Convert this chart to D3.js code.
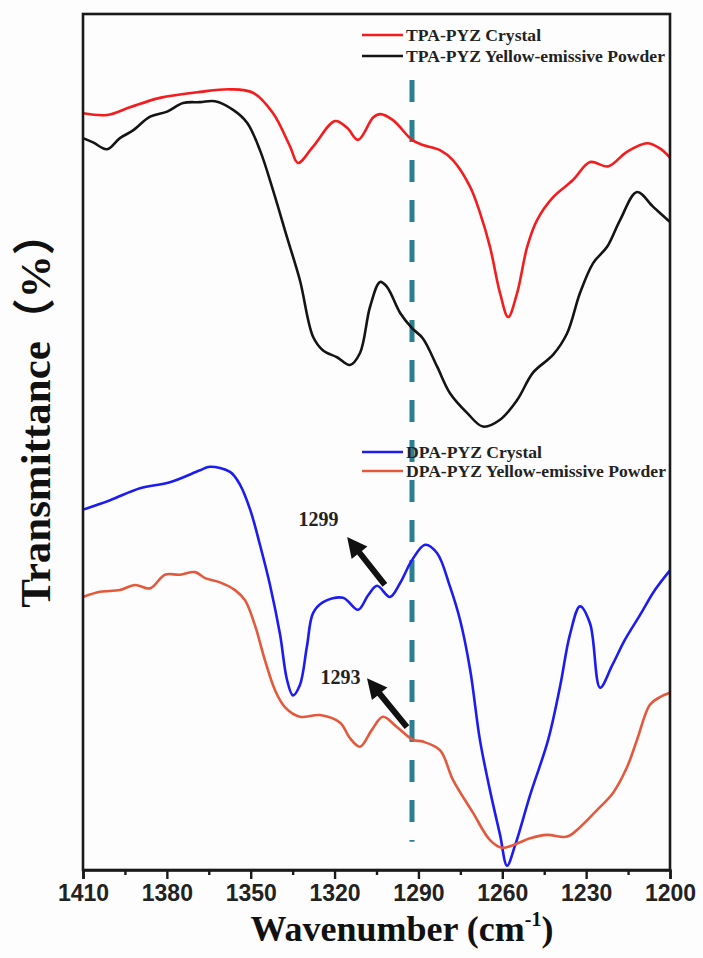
<!DOCTYPE html>
<html>
<head>
<meta charset="utf-8">
<script src="https://cdn.jsdelivr.net/npm/d3@7"></script>
<style>
  html, body { margin: 0; padding: 0; background: #ffffff; }
  svg { display: block; }
</style>
</head>
<body>
<svg id="chart" width="703" height="958"></svg>
<script>
// ---------- data ----------
const majorTicks = [1410, 1380, 1350, 1320, 1290, 1260, 1230, 1200];
const minorTicks = [1395, 1365, 1335, 1305, 1275, 1245, 1215];

const tpaCrystalWn = [1410.0,1401.4,1393.2,1382.5,1368.1,1357.4,1349.2,1342.0,1335.9,1333.1,1327.7,1319.8,1315.5,1311.6,1306.2,1303.7,1299.1,1292.3,1288.4,1282.3,1277.6,1271.5,1268.0,1264.4,1260.8,1257.9,1254.7,1251.1,1247.6,1241.8,1234.7,1228.6,1222.2,1215.4,1208.2,1203.6,1200.0];
const tpaCrystalT  = [88.4,88.2,89.1,90.2,90.9,91.2,90.8,88.4,84.5,82.6,84.5,87.5,86.7,85.3,87.9,88.3,87.6,85.3,84.7,84.1,82.9,79.8,76.8,72.8,67.4,64.6,67.4,72.8,75.9,78.6,80.6,82.7,82.2,83.9,84.9,84.3,83.2];

const tpaPowderWn = [1410.0,1406.4,1401.4,1396.8,1392.1,1386.0,1379.9,1374.2,1368.1,1362.8,1356.3,1351.3,1346.7,1342.0,1337.0,1332.4,1327.7,1324.1,1319.1,1314.5,1310.9,1307.3,1303.7,1301.2,1296.6,1292.3,1288.4,1283.3,1278.7,1272.6,1266.9,1260.8,1254.7,1249.0,1241.8,1236.8,1232.2,1227.5,1222.5,1217.9,1211.8,1206.1,1200.0];
const tpaPowderT  = [85.5,85.0,84.2,85.5,86.4,88.0,88.6,89.6,89.7,89.8,88.8,87.3,84.1,79.4,73.9,68.9,62.3,60.7,59.9,59.0,60.4,65.8,68.7,68.1,65.1,63.3,62.1,58.8,55.7,53.4,51.8,52.6,54.9,58.1,60.2,62.7,67.4,70.9,72.8,75.9,79.2,77.5,75.7];

const dpaCrystalWn = [1410.0,1400.3,1389.6,1378.9,1368.1,1364.6,1357.4,1353.8,1350.2,1346.7,1343.1,1339.5,1337.0,1334.9,1332.4,1329.9,1327.7,1324.1,1317.0,1311.6,1308.0,1304.8,1300.2,1296.6,1292.3,1287.6,1283.3,1278.7,1275.1,1271.5,1268.0,1264.4,1260.8,1258.3,1255.4,1250.0,1243.6,1239.3,1235.8,1232.2,1228.6,1225.0,1220.7,1216.1,1210.7,1205.4,1200.0];
const dpaCrystalT  = [42.1,43.2,44.6,45.3,46.7,47.1,46.5,45.0,42.1,38.0,33.3,27.5,22.2,20.4,21.6,26.1,30.0,31.3,31.8,30.4,32.1,33.2,31.9,33.5,36.2,38.0,37.0,33.1,29.2,23.4,15.2,9.3,4.1,0.5,2.9,8.8,15.2,21.5,27.5,30.8,28.8,21.3,23.9,26.9,29.8,32.7,35.0];

const dpaPowderWn = [1410.0,1403.9,1396.8,1391.4,1386.0,1380.7,1375.3,1369.9,1366.3,1361.0,1355.6,1352.0,1348.5,1344.9,1341.3,1337.7,1332.4,1325.2,1318.0,1314.5,1310.9,1306.6,1302.7,1297.7,1291.9,1288.4,1282.3,1277.6,1270.5,1264.4,1260.1,1256.2,1250.0,1244.0,1236.8,1232.2,1226.1,1220.4,1215.4,1211.8,1207.2,1203.6,1200.0];
const dpaPowderT  = [31.9,32.5,32.7,33.3,32.9,34.5,34.5,34.8,34.1,33.6,32.7,31.5,28.6,24.5,21.0,19.0,17.9,18.1,17.2,15.4,14.4,16.4,17.9,16.7,15.2,15.0,14.0,10.5,6.7,3.5,2.6,2.9,3.7,4.1,3.9,5.0,7.0,9.0,12.0,15.2,19.3,20.2,20.7];

const seriesNames = ["TPA-PYZ Crystal", "TPA-PYZ Yellow-emissive Powder", "DPA-PYZ Crystal", "DPA-PYZ Yellow-emissive Powder"];
const seriesColors = ["#f41c1c", "#141414", "#1c1cf2", "#e4583c"];

// marker line and annotations (wavenumber, transmittance)
const markerWn = 1292.3;
const markerRange = [92.3, 3.3];
const annLabels = ["1299", "1293"];
const annTextPos = [[1332.9, 40.2], [1325.0, 21.7]];
const annArrowTail = [[1302.0, 33.3], [1294.1, 16.7]];
const annArrowTip  = [[1315.5, 38.9], [1308.4, 22.4]];

// ---------- layout ----------
const svg = d3.select("#chart");
const L = 83, R = 670, T = 14, B = 870;
const x = d3.scaleLinear().domain([1410, 1200]).range([L, R]);
const y = d3.scaleLinear().domain([0, 100]).range([B, T]);

svg.append("rect").attr("width", 703).attr("height", 958).attr("fill", "#fdfdfd");

const series = [
  {wn: tpaCrystalWn, t: tpaCrystalT},
  {wn: tpaPowderWn, t: tpaPowderT},
  {wn: dpaCrystalWn, t: dpaCrystalT},
  {wn: dpaPowderWn, t: dpaPowderT}
].map((s, i) => ({name: seriesNames[i], color: seriesColors[i], pts: s.wn.map((w, j) => [w, s.t[j]])}));

const line = d3.line().x(d => x(d[0])).y(d => y(d[1])).curve(d3.curveCatmullRom.alpha(0.5));

// dashed marker
svg.append("line")
  .attr("x1", x(markerWn)).attr("x2", x(markerWn))
  .attr("y1", y(markerRange[0])).attr("y2", y(markerRange[1]))
  .attr("stroke", "#2a8090").attr("stroke-width", 5)
  .attr("stroke-dasharray", "22,18");

// curves
svg.append("g").selectAll("path").data(series).join("path")
  .attr("d", d => line(d.pts))
  .attr("fill", "none")
  .attr("stroke", d => d.color)
  .attr("stroke-width", 2.6)
  .attr("stroke-linejoin", "round");

// frame
svg.append("rect").attr("x", L).attr("y", T).attr("width", R - L).attr("height", B - T)
  .attr("fill", "none").attr("stroke", "#1a1a1a").attr("stroke-width", 2.6);

// x axis
const axis = d3.axisBottom(x).tickValues(majorTicks).tickSize(9).tickPadding(6).tickFormat(d3.format("d"));
const gx = svg.append("g").attr("transform", `translate(0,${B})`).call(axis);
gx.select(".domain").attr("stroke", "#1a1a1a").attr("stroke-width", 2.6);
gx.selectAll(".tick line").attr("stroke", "#1a1a1a").attr("stroke-width", 2.4);
gx.selectAll(".tick text").attr("fill", "#222").style("font-family", "'Liberation Sans', Arial, sans-serif")
  .style("font-size", "23px").style("font-weight", "bold");
const axisMinor = d3.axisBottom(x).tickValues(minorTicks).tickSize(5).tickFormat("");
const gm = svg.append("g").attr("transform", `translate(0,${B})`).call(axisMinor);
gm.select(".domain").remove();
gm.selectAll(".tick line").attr("stroke", "#1a1a1a").attr("stroke-width", 2.4);

// axis titles
const serif = "'Liberation Serif', 'Times New Roman', 'Noto Sans CJK SC', serif";
svg.append("text")
  .attr("transform", "translate(50,410) rotate(-90)")
  .attr("text-anchor", "middle")
  .style("font-family", serif).style("font-weight", "bold").style("font-size", "43px")
  .attr("fill", "#111")
  .text("Transmittance（%）");

const xt = svg.append("text")
  .attr("x", 402).attr("y", 941).attr("text-anchor", "middle")
  .style("font-family", serif).style("font-weight", "bold").style("font-size", "36px")
  .attr("fill", "#111");
xt.append("tspan").text("Wavenumber (cm");
xt.append("tspan").attr("dy", -15).style("font-size", "20px").text("-1");
xt.append("tspan").attr("dy", 15).text(")");

// legends
const legendRows = [
  {i: 0, ly: 35, ty: 41},
  {i: 1, ly: 56, ty: 62},
  {i: 2, ly: 452, ty: 458},
  {i: 3, ly: 471, ty: 477}
];
const lg = svg.append("g");
legendRows.forEach(r => {
  lg.append("line").attr("x1", 362).attr("x2", 403).attr("y1", r.ly).attr("y2", r.ly)
    .attr("stroke", seriesColors[r.i]).attr("stroke-width", 2.6);
  lg.append("text").attr("x", 406).attr("y", r.ty)
    .style("font-family", serif).style("font-weight", "bold").style("font-size", "17.6px")
    .attr("fill", "#222").text(seriesNames[r.i]);
});

// annotations
annLabels.forEach((lab, k) => {
  svg.append("text").attr("x", x(annTextPos[k][0])).attr("y", y(annTextPos[k][1]))
    .style("font-family", serif).style("font-weight", "bold").style("font-size", "20px")
    .attr("fill", "#222").text(lab);
  const x0 = x(annArrowTail[k][0]), y0 = y(annArrowTail[k][1]);
  const x1 = x(annArrowTip[k][0]), y1 = y(annArrowTip[k][1]);
  const dx = x1 - x0, dy = y1 - y0, len = Math.hypot(dx, dy);
  const ux = dx / len, uy = dy / len, nx = -uy, ny = ux;
  const sw = 3, hw = 10, hl = 20;
  const bx = x1 - ux * hl, by = y1 - uy * hl;
  const p = [
    [x0 + nx * sw, y0 + ny * sw], [bx + nx * sw, by + ny * sw], [bx + nx * hw, by + ny * hw],
    [x1, y1],
    [bx - nx * hw, by - ny * hw], [bx - nx * sw, by - ny * sw], [x0 - nx * sw, y0 - ny * sw]
  ];
  svg.append("path").attr("d", "M" + p.map(q => q.join(",")).join("L") + "Z").attr("fill", "#111");
});
</script>
</body>
</html>
